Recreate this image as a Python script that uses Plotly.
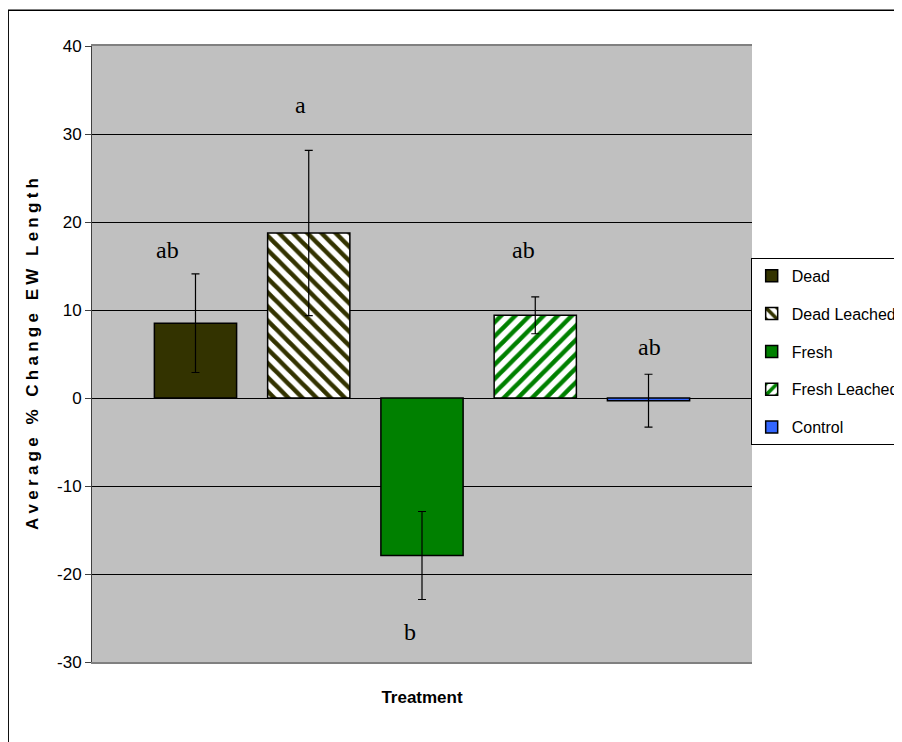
import plotly.graph_objects as go

# ---- data ----
series = ["Dead", "Dead Leached", "Fresh", "Fresh Leached", "Control"]
values = [8.5, 18.75, -17.9, 9.4, -0.3]
errors = [5.6, 9.4, 5.0, 2.1, 3.0]
sig_letters = ["ab", "a", "b", "ab", "ab"]
letter_y = [16.8, 33.3, -26.6, 16.8, 5.8]
category = ["Treatment"]
y_tickvals = [-30, -20, -10, 0, 10, 20, 30, 40]
y_ticktext = ["-30", "-20", "-10", "0", "10", "20", "30", "40"]

fills = ["#333300", "#FFFFFF", "#008000", "#FFFFFF", "#3366FF"]
pattern_shapes = ["", "\\", "", "/", ""]
pattern_fg = ["#333300", "#333300", "#008000", "#008000", "#3366FF"]
letter_xshift = [-28, -8, -12, -12, 1]

bargap = 0.142
bargroupgap = 0.274

fig = go.Figure()
for i, s in enumerate(series):
    pat = None
    if pattern_shapes[i]:
        pat = dict(shape=pattern_shapes[i], fgcolor=pattern_fg[i], fgopacity=1,
                   bgcolor="#FFFFFF", size=10, solidity=0.45, fillmode="replace")
    fig.add_trace(go.Bar(
        name=s, x=category, y=[values[i]],
        marker=dict(color=fills[i], line=dict(color="#000000", width=1.5), pattern=pat),
        error_y=dict(type="data", array=[errors[i]], color="#000000", thickness=1.2, width=4),
        legendgroup=s,
    ))

slot = (1 - bargap) / len(series)
for i, s in enumerate(series):
    xc = -0.5 + bargap / 2 + slot * (i + 0.5)
    fig.add_annotation(x=xc, xref="x", y=letter_y[i], yref="y", text=sig_letters[i],
                       showarrow=False, xshift=letter_xshift[i],
                       font=dict(family="Liberation Serif", size=24, color="#000000"))

sp = "\u2005"
ytitle = sp.join(list("Average")) + sp * 3 + "%" + sp * 3 + sp.join(list("Change")) + \
    sp * 3 + sp.join(list("EW")) + sp * 3 + sp.join(list("Length"))

fig.update_layout(
    width=902, height=742,
    margin=dict(l=84, r=158, t=38, b=88, autoexpand=False),
    paper_bgcolor="#FFFFFF", plot_bgcolor="#C0C0C0",
    barmode="group", bargap=bargap, bargroupgap=bargroupgap,
    font=dict(family="Liberation Sans", size=17, color="#000000"),
    showlegend=True,
    legend=dict(x=0.998, xanchor="left", y=0.656, yanchor="top",
                bgcolor="#FFFFFF", bordercolor="#000000", borderwidth=1,
                font=dict(family="Liberation Sans", size=16),
                tracegroupgap=14, itemwidth=30, traceorder="grouped"),
    xaxis=dict(showticklabels=False, ticks="", showgrid=False, zeroline=False,
               title=dict(text="<b>Treatment</b>", font=dict(size=17), standoff=28),
               showline=True, linecolor="#808080", linewidth=2, mirror=True),
    yaxis=dict(range=[-30, 40], tickmode="array", tickvals=y_tickvals, ticktext=y_ticktext,
               showgrid=True, gridcolor="#000000", gridwidth=1,
               zeroline=True, zerolinecolor="#000000", zerolinewidth=1,
               ticks="outside", ticklen=6, tickcolor="#404040",
               showline=True, linecolor="#404040", linewidth=1,
               title=dict(text="<b>" + ytitle + "</b>", font=dict(size=17), standoff=14)),
)

# outer chart border (extends beyond the visible page on right and bottom)
fig.add_shape(type="rect", xref="paper", yref="paper",
              x0=-0.127, x1=1.6, y0=-0.3, y1=1.058,
              line=dict(color="#000000", width=1.5), fillcolor="rgba(0,0,0,0)", layer="below")

fig.write_html("out.html")
